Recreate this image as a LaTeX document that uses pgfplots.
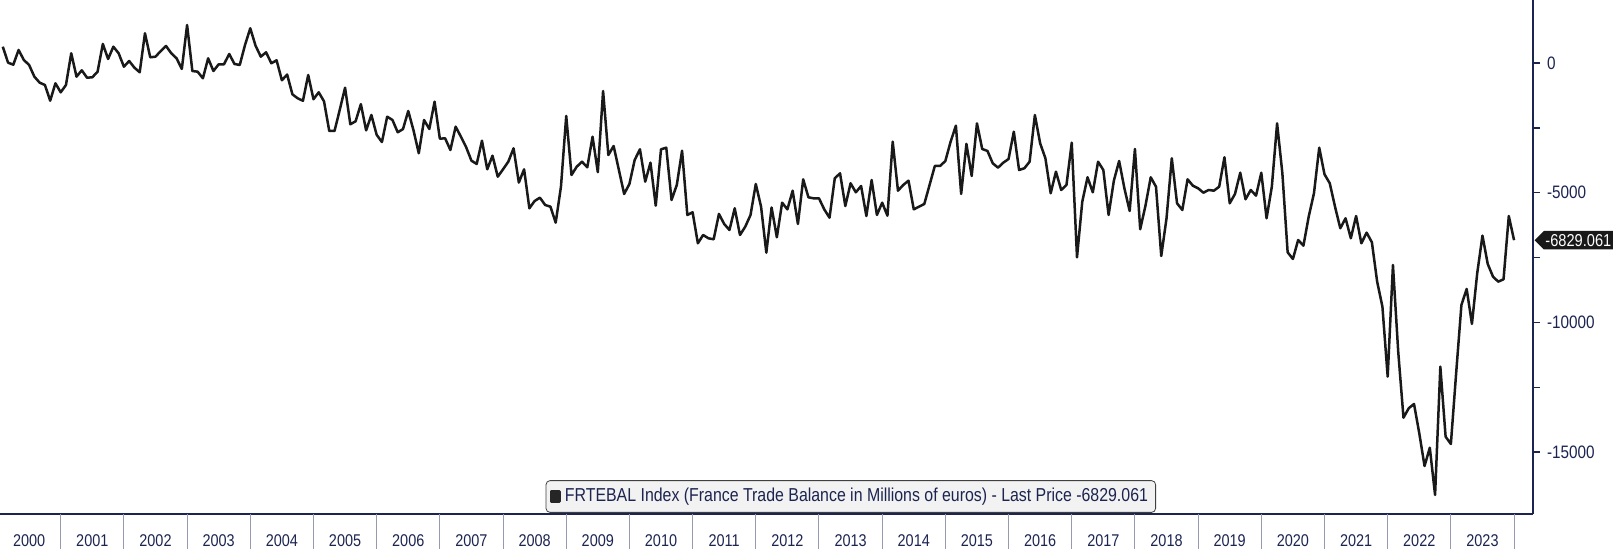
\documentclass[border=0pt]{standalone}
\usepackage{fontspec}
\setmainfont{Liberation Sans}[FakeStretch=0.85]
\usepackage{pgfplots}
\usepackage{pgfplotstable}
\pgfplotsset{compat=1.18}
\usetikzlibrary{shapes.symbols}
\definecolor{navy}{RGB}{28,36,80}
\definecolor{sepc}{RGB}{150,154,175}
\definecolor{lgfill}{RGB}{242,242,242}

\pgfplotstableread{
v
624
8
-69
497
112
-81
-531
-762
-851
-1456
-786
-1133
-851
370
-531
-285
-570
-555
-339
728
150
624
370
-146
73
-185
-362
1140
216
239
458
651
370
177
-235
1460
-312
-339
-593
177
-312
-54
-54
343
-42
-81
690
1333
663
239
408
-15
100
-670
-450
-1210
-1364
-1460
-466
-1400
-1133
-1480
-2623
-2623
-1800
-955
-2365
-2250
-1590
-2600
-2007
-2770
-3050
-2072
-2199
-2673
-2550
-1853
-2600
-3482
-2199
-2546
-1494
-2920
-2905
-3355
-2457
-2843
-3251
-3767
-3894
-2997
-4099
-3575
-4384
-4099
-3806
-3290
-4610
-4099
-5601
-5320
-5192
-5474
-5539
-6155
-4769
-2045
-4318
-3998
-3806
-4022
-2843
-4210
-1082
-3548
-3201
-4125
-5050
-4665
-3740
-3328
-4576
-3844
-5501
-3328
-3266
-5281
-4703
-3382
-5859
-5755
-6949
-6629
-6756
-6795
-5820
-6206
-6437
-5601
-6629
-6309
-5859
-4665
-5539
-7311
-5570
-6718
-5385
-5642
-4923
-6206
-4485
-5178
-5217
-5217
-5642
-5963
-4446
-4254
-5513
-4638
-4985
-4742
-5898
-4511
-5859
-5385
-5886
-3035
-4923
-4703
-4537
-5642
-5539
-5435
-4703
-3971
-3971
-3779
-3035
-2419
-5050
-3120
-4357
-2330
-3316
-3393
-3868
-4036
-3844
-3702
-2650
-4125
-4060
-3806
-2007
-3097
-3675
-5023
-4191
-4896
-4703
-3074
-7488
-5347
-4407
-4985
-3806
-4125
-5859
-4537
-3779
-4831
-5705
-3316
-6410
-5501
-4407
-4769
-7438
-5986
-3675
-5408
-5666
-4485
-4730
-4831
-5000
-4896
-4923
-4769
-3636
-5408
-5050
-4230
-5254
-4896
-5115
-4230
-5986
-4769
-2330
-4254
-7295
-7554
-6822
-7041
-5924
-5023
-3266
-4291
-4638
-5539
-6371
-5986
-6756
-5898
-6949
-6540
-6910
-8428
-9391
-12087
-7785
-11124
-13666
-13304
-13139
-14268
-15528
-14823
-16645
-11702
-14399
-14680
-11959
-9328
-8709
-10057
-8107
-6655
-7746
-8235
-8428
-8336
-5898
-6829.061
}\tradedata

\begin{document}
\begin{tikzpicture}
\useasboundingbox (0pt,0pt) rectangle (807.5pt,274.5pt);
\begin{axis}[
  at={(0pt,17.5pt)}, anchor=south west,
  scale only axis, width=766.5pt, height=257pt,
  xmin=-0.53, xmax=290.6, ymin=-17377, ymax=2423,
  axis x line*=bottom, axis y line*=right,
  axis line style={navy, line width=1pt, -},
  clip=false,
  tick align=outside,
  xtick={5,17,...,281},
  xticklabels={2000,2001,2002,2003,2004,2005,2006,2007,2008,2009,2010,2011,2012,2013,2014,2015,2016,2017,2018,2019,2020,2021,2022,2023},
  x tick style={draw=none},
  xticklabel style={font=\fontsize{8.5}{10}\selectfont, text=navy, anchor=center, yshift=-10pt},
  ytick={-15000,-10000,-5000,0},
  yticklabels={-15000,-10000,-5000,0},
  minor ytick={-12500,-7500,-2500},
  major tick length=3.5pt, minor tick length=3.5pt,
  y tick style={navy, line width=0.8pt},
  yticklabel style={font=\fontsize{9}{10}\selectfont, text=navy, anchor=west},
  legend style={at={(0.555,0.034)}, anchor=center, fill=lgfill, draw=black!75,
    rounded corners=2pt, font=\fontsize{9.35}{11}\selectfont, text=navy,
    inner sep=1.8pt, legend cell align=left},
  legend image code/.code={\fill[black!85, sharp corners] (0pt,-2.4pt) rectangle (4.4pt,2.6pt);},
]
\addplot[black!90, line width=1.25pt, line join=round] table[x expr=\coordindex, y=v] {\tradedata};
\addlegendentry{FRTEBAL Index (France Trade Balance in Millions of euros) - Last Price -6829.061}
\foreach \k in {11,23,...,287} {
  \edef\temp{\noexpand\draw[sepc, line width=0.5pt] (axis cs:\k,-17377) -- ([yshift=-17.5pt]axis cs:\k,-17377);}
  \temp
}
\node[signal, signal to=west, fill=black!90, text=white, inner xsep=0.8pt, inner ysep=1.2pt,
  minimum height=9.25pt, font=\fontsize{8.6}{10}\selectfont, anchor=west]
  at ([xshift=0.5pt]axis cs:290.6,-6829.061) {-6829.061};
\end{axis}
\end{tikzpicture}
\end{document}
